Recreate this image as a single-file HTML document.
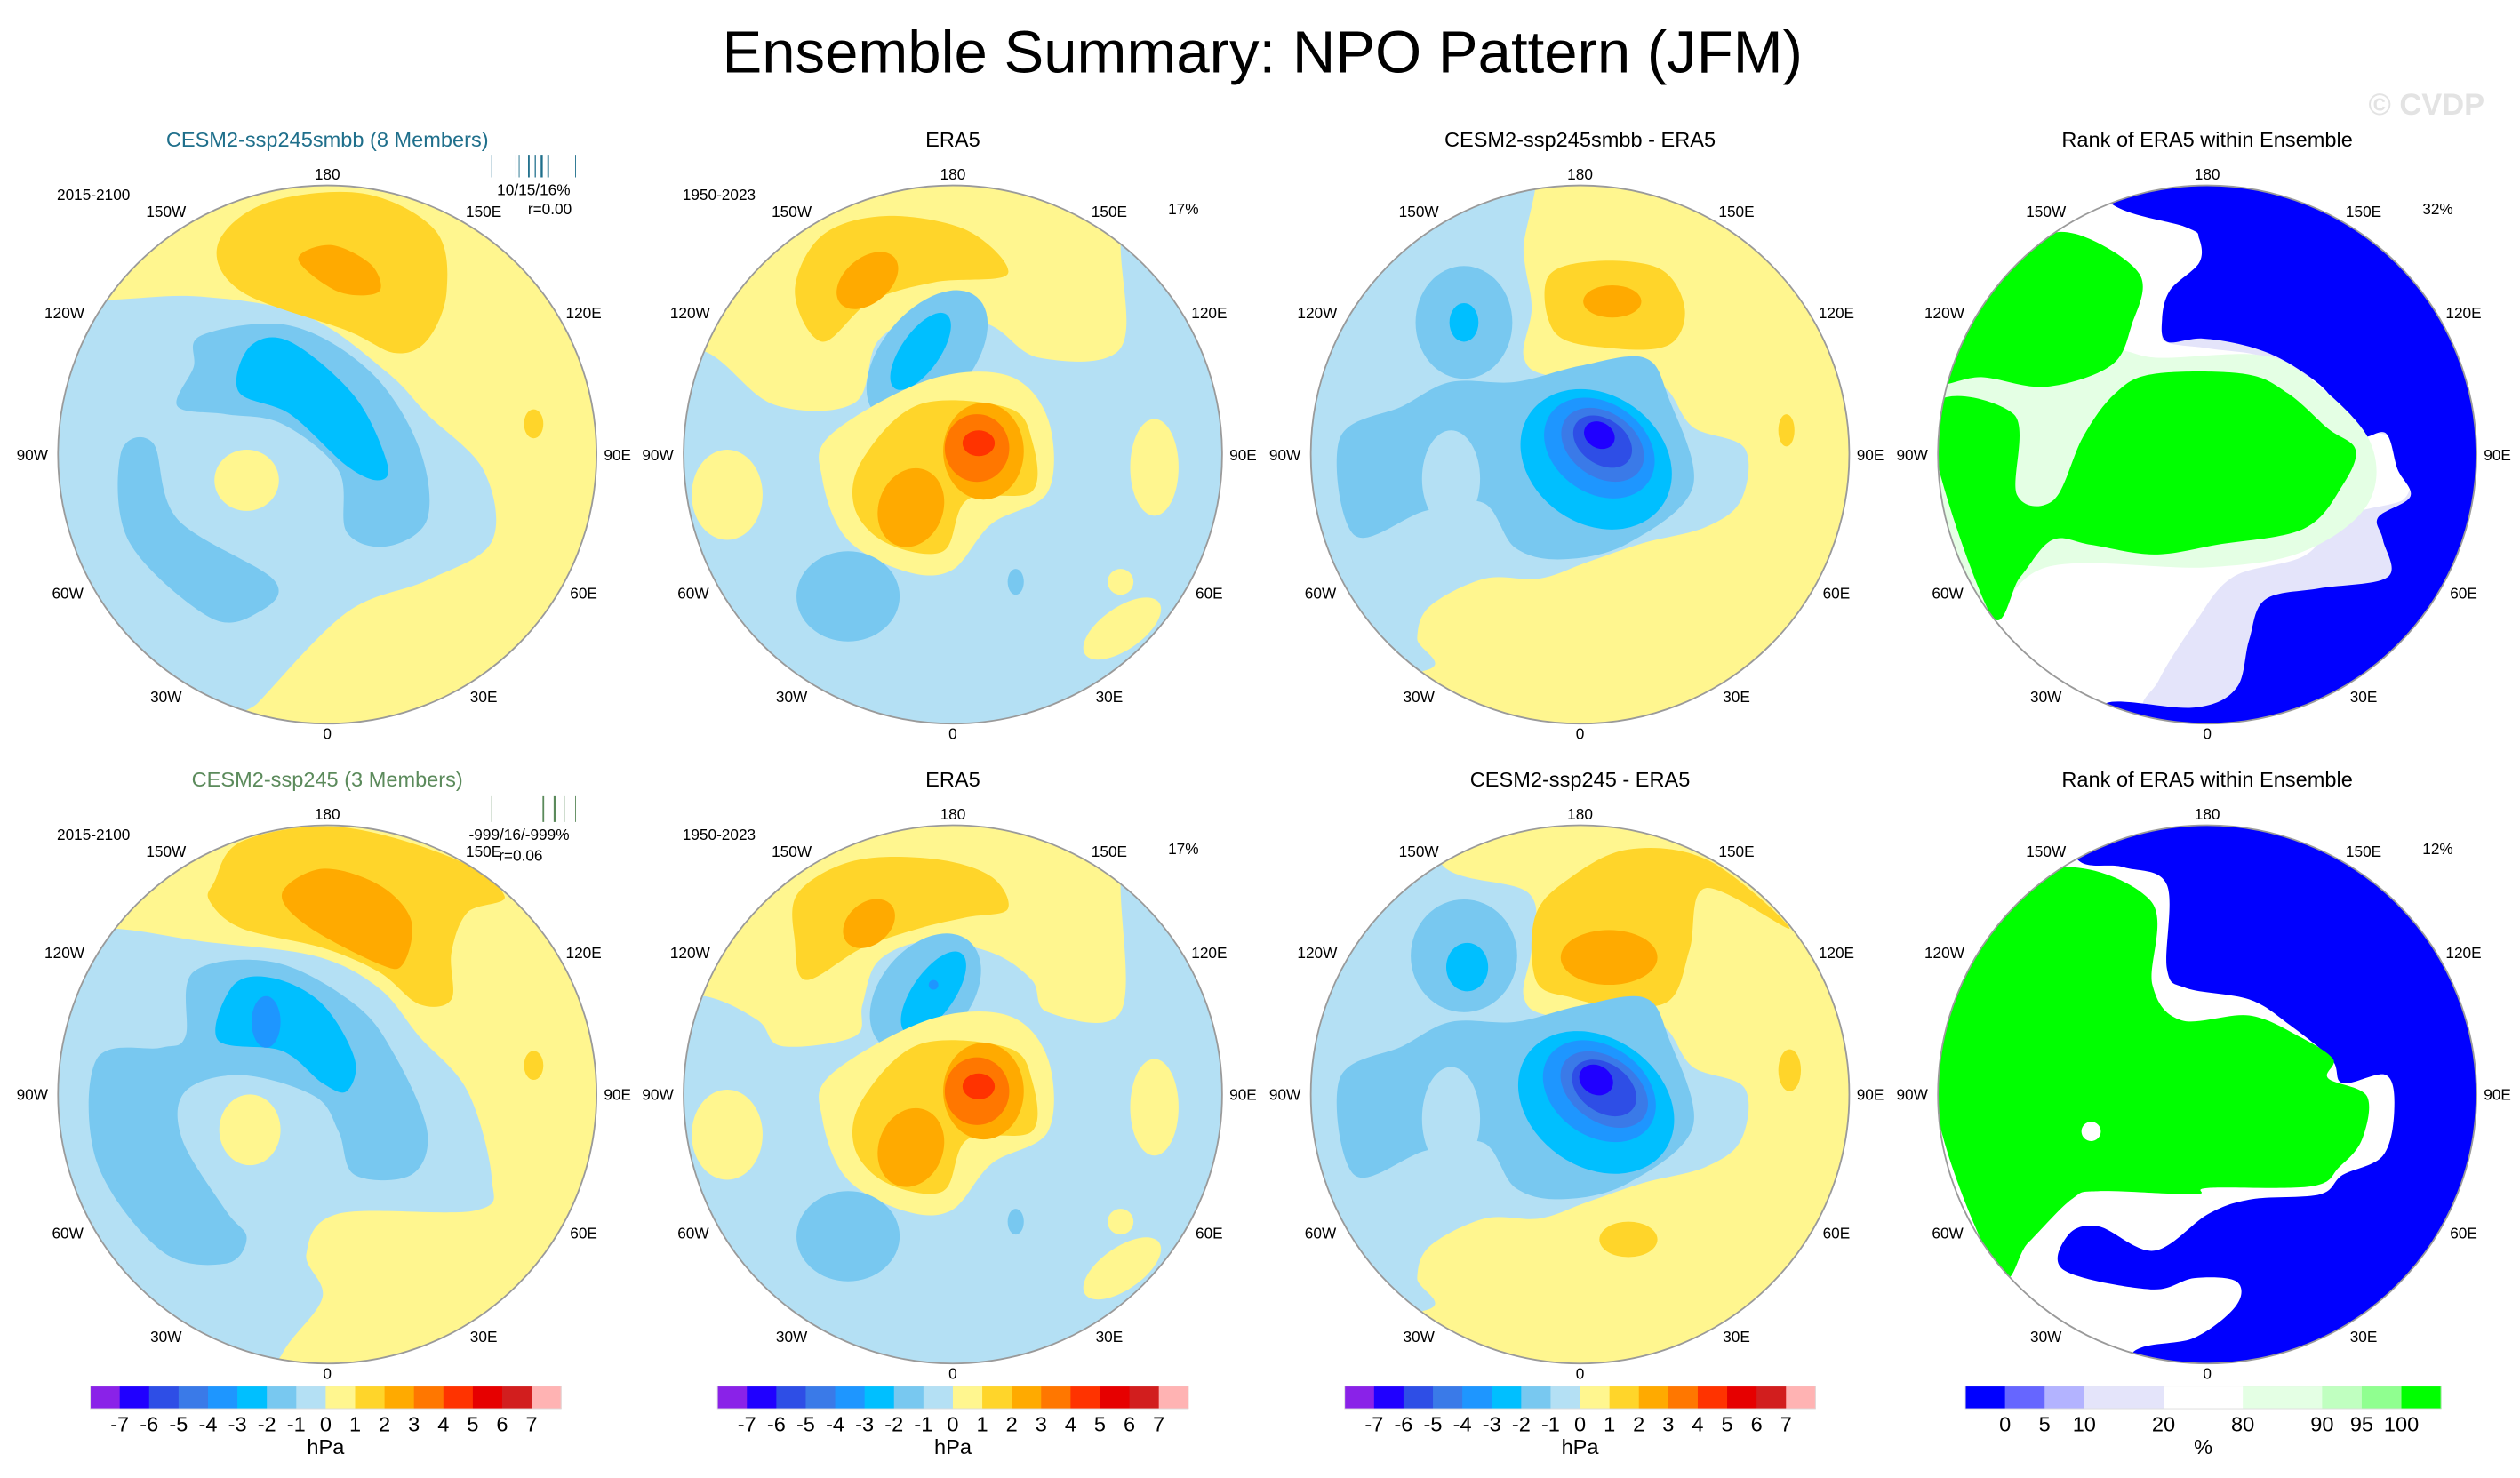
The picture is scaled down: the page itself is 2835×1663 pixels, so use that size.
<!DOCTYPE html>
<html><head><meta charset="utf-8">
<style>
html,body{margin:0;padding:0;background:#fff;}
svg{display:block;font-family:"Liberation Sans",Arial,sans-serif;}
</style></head>
<body>
<svg id="fig" xmlns="http://www.w3.org/2000/svg" width="2835" height="1663" viewBox="0 0 1563 917" preserveAspectRatio="none">
<rect x="0" y="0" width="1563" height="917" fill="#fff"/>
<text x="783" y="45" text-anchor="middle" font-size="37" fill="#000">Ensemble Summary: NPO Pattern (JFM)</text>
<text x="1505" y="71" text-anchor="middle" font-size="19" fill="#e3e3e3" font-weight="bold">© CVDP</text>
<g id="maps"></g>
</svg>
<script>
// ---- data ----
const hpaLevels = ["-7","-6","-5","-4","-3","-2","-1","0","1","2","3","4","5","6","7"];
const hpaColors = ["#8a22e8","#2000ff","#2e4ee6","#3a7ae8","#1e96ff","#00bfff","#78c8f0","#b4e0f4","#fff68f","#ffd52a","#ffaa00","#ff7700","#ff3300","#e60000","#d21e1e","#ffb3b3"];
const rankLevels = ["0","5","10","20","80","90","95","100"];
const rankColors = ["#0000ff","#6666ff","#b3b3ff","#e4e4fa","#ffffff","#e4ffe4","#c0ffc0","#90ff90","#00ff00"];
const rankBoxUnits = [1,1,1,2,2,2,1,1,1];
const lonLabels = ["180","150E","120E","90E","60E","30E","0","30W","60W","90W","120W","150W"];
const lonOffsets = [[0,-174],[97,-151],[159,-88],[180,0],[159,86],[97,150],[0,173],[-100,150],[-161,86],[-183,0],[-163,-88],[-100,-151]];

const map1Field = [
 ['p',8,[-138,-96,-78,-98,-13,-86,37,-51,62,-25,97,10,102,54,62,78,12,98,-43,154,-58,170,200,200,200,-200,-200,-200,-200,-96]],
 ['p',9,[-68,-130,-38,-156,22,-162,67,-139,74,-101,62,-71,42,-63,12,-77,-53,-101]],
 ['p',10,[-18,-121,2,-130,27,-118,32,-101,7,-101]],
 ['p',6,[-78,-74,-23,-80,27,-51,57,-4,62,40,37,57,12,48,7,10,-28,-19,-63,-25,-93,-30,-83,-54]],
 ['p',6,[-128,-1,-108,-7,-93,40,-33,78,-43,98,-73,101,-123,54]],
 ['p',5,[-55,-39,-48,-67,-23,-70,17,-36,37,5,32,16,12,7,-23,-25]],
 ['e',8,-50,16,20,19,0],
 ['e',9,128,-19,6,9,0]
];
const map2Field = [
 ['p',8,[-154,-64,-111,-31,-61,-32,-46,-71,-11,-89,24,-80,54,-60,104,-66,104,-131,104,-200,-200,-200,-200,-64]],
 ['p',9,[-98,-101,-81,-136,-41,-148,9,-139,34,-112,-11,-107,-51,-95,-81,-70]],
 ['e',10,-53,-108,22,14,-40],
 ['e',6,-16,-61,48,28,-50],
 ['e',5,-20,-64,28,12,-55],
 ['p',8,[-76,-12,-16,-46,34,-49,59,-22,59,23,24,43,-1,72,-31,72,-66,52,-81,15]],
 ['p',9,[-56,3,-21,-31,34,-29,49,-9,49,23,9,28,-6,60,-41,55,-61,33]],
 ['e',10,19,-2,25,30,0],
 ['e',10,-26,33,20,25,20],
 ['e',11,15,-4,20,21,0],
 ['e',12,16,-7,10,8,0],
 ['e',8,-140,25,22,28,0],
 ['e',8,125,8,15,30,0],
 ['e',8,105,108,28,13,-35],
 ['e',8,104,79,8,8,0],
 ['e',6,-65,88,32,28,0],
 ['e',6,39,79,5,8,0]
];
const map3Field = [
 ['p',7,[-40,-200,-35,-125,-30,-91,-35,-61,-20,-49,29,-46,53,-41,70,-17,102,-4,100,28,78,45,39,55,4,67,-25,77,-59,77,-93,94,-101,114,-96,134,-200,140,-200,-200]],
 ['p',9,[-20,-110,10,-120,50,-115,65,-90,55,-68,20,-66,-15,-75]],
 ['e',10,20,-95,18,10,0],
 ['e',6,-72,-82,30,35,0],
 ['p',6,[-149,-10,-110,-30,-80,-45,-40,-45,0,-55,40,-60,55,-35,70,20,30,55,-10,65,-40,58,-60,30,-96,35,-140,50]],
 ['e',7,-80,15,18,30,0],
 ['e',5,-72,-82,9,12,0],
 ['e',5,10,3,50,40,35],
 ['e',4,12,-4,37,28,35],
 ['e',3,14,-6,28,20,35],
 ['e',2,14,-8,20,14,35],
 ['e',1,12,-12,10,8,30],
 ['e',9,128,-15,5,10,0]
];
const map4Field = [
 ['p',3,[-75,-160,-13,-150,8,-130,-12,-95,-28,-72,0,-66,30,-62,56,-52,82,-34,90,-18,120,-10,140,0,200,-200,-75,-200]],
 ['p',3,[120,29,84,39,60,63,16,76,-8,105,-30,140,-35,160,40,175,140,100,130,20]],
 ['p',0,[-62,-158,-13,-141,-5,-134,-5,-119,-23,-102,-28,-84,-25,-70,-3,-72,26,-67,50,-57,75,-38,79,-20,96,-11,111,-13,118,9,126,26,106,39,109,53,112,76,70,83,36,90,26,115,18,145,-8,157,-62,154,-67,175,200,200,200,-200,-62,-200]],
 ['p',5,[-175,-50,-120,-60,-60,-65,-30,-60,30,-62,60,-50,100,-10,100,30,60,60,0,70,-100,70,-140,110,-175,100]],
 ['p',8,[-170,-45,-157,-84,-111,-129,-82,-137,-42,-112,-47,-80,-60,-55,-100,-42,-140,-48]],
 ['p',8,[-172,-25,-120,-25,-118,25,-95,28,-77,-11,-57,-38,-33,-50,23,-50,50,-38,75,-16,92,-3,84,19,60,46,6,56,-33,62,-72,56,-96,53,-116,76,-135,98]]
];
const map5Field = [
 ['p',8,[-133,-103,-78,-95,-8,-86,32,-66,57,-36,87,-2,102,52,92,72,7,74,-13,99,-3,126,-28,161,-40,200,200,200,200,-200,-200,-200,-200,-103]],
 ['p',9,[-70,-132,-53,-157,7,-166,77,-147,110,-123,87,-113,77,-88,77,-59,57,-56,32,-76,-3,-91,-53,-103,-73,-120]],
 ['p',10,[-28,-125,-3,-140,32,-130,52,-108,47,-81,32,-81,-13,-105]],
 ['p',6,[-83,-76,-33,-82,17,-56,42,-24,62,23,52,50,17,50,7,23,-8,1,-53,-12,-88,-2,-90,28,-63,72,-50,89,-63,105,-103,97,-143,42,-143,-22,-103,-29,-88,-36]],
 ['p',5,[-68,-34,-58,-68,-33,-72,-3,-56,17,-22,12,-2,-3,-7,-28,-27]],
 ['e',4,-38,-45,9,16,0],
 ['e',8,-48,22,19,22,0],
 ['e',9,128,-18,6,9,0]
];
const map6Field = [
 ['p',8,[-154,-61,-121,-46,-106,-30,-61,-36,-56,-56,-46,-83,-16,-95,24,-88,49,-71,59,-51,104,-51,104,-130,104,-200,-200,-200,-200,-61]],
 ['p',9,[-96,-125,-61,-145,-11,-146,24,-135,34,-115,9,-110,-21,-103,-56,-91,-91,-71,-98,-95]],
 ['e',10,-52,-106,18,13,-40],
 ['e',6,-17,-63,42,28,-50],
 ['e',5,-12,-63,30,13,-55],
 ['e',4,-12,-68,3,3,0],
 ['p',8,[-76,-12,-16,-46,34,-49,59,-22,59,23,24,43,-1,72,-31,72,-66,52,-81,15]],
 ['p',9,[-56,3,-21,-31,34,-29,49,-9,49,23,9,28,-6,60,-41,55,-61,33]],
 ['e',10,19,-2,25,30,0],
 ['e',10,-26,33,20,25,20],
 ['e',11,15,-2,20,21,0],
 ['e',12,16,-5,10,8,0],
 ['e',8,-140,25,22,28,0],
 ['e',8,125,8,15,30,0],
 ['e',8,105,108,28,13,-35],
 ['e',8,104,79,8,8,0],
 ['e',6,-65,88,32,28,0],
 ['e',6,39,79,5,8,0]
];
const map7Field = [
 ['p',7,[-86,-143,-32,-125,-30,-91,-35,-61,-20,-49,29,-46,53,-41,70,-17,102,-4,100,28,78,45,39,55,4,67,-25,77,-59,77,-93,94,-101,114,-96,134,-200,140,-200,-200,-86,-200]],
 ['p',9,[-27,-70,-28,-110,-8,-133,30,-152,80,-145,130,-103,78,-128,68,-90,55,-58,20,-55,-5,-60]],
 ['e',10,18,-85,30,17,0],
 ['e',6,-72,-86,33,35,0],
 ['p',6,[-149,-10,-110,-30,-80,-45,-40,-45,0,-55,40,-60,55,-35,70,20,30,55,-10,65,-40,58,-60,30,-96,35,-140,50]],
 ['e',7,-80,15,18,32,0],
 ['e',5,-70,-79,13,15,0],
 ['e',5,10,5,52,40,35],
 ['e',4,12,-2,38,28,35],
 ['e',3,15,-3,30,20,35],
 ['e',2,15,-4,22,15,35],
 ['e',1,10,-9,11,9,30],
 ['e',9,130,-15,7,13,0],
 ['e',9,30,90,18,11,0]
];
const map8Field = [
 ['p',0,[-82,-148,-52,-141,-25,-130,-25,-78,-13,-66,26,-59,50,-44,77,-22,84,-7,111,-12,116,10,109,38,84,50,70,62,28,65,1,74,-33,97,-67,82,-86,87,-89,109,-35,121,-8,114,18,116,18,131,-8,151,-47,161,-47,200,200,200,200,-200,-82,-200]],
 ['p',8,[-130,110,-169,3,-157,-91,-96,-140,-35,-120,-34,-68,-16,-46,26,-49,57,-36,78,-22,75,-10,99,1,96,28,82,45,65,57,1,58,-8,62,-67,60,-84,65,-111,92]],
 ['e',4,-72,23,6,6,0]
];

const panels = [
 {cx:203,cy:282,field:map1Field,pal:'hpa',base:7,title:"CESM2-ssp245smbb (8 Members)",tcol:"#1f6f8b",left:"2015-2100",name:'cesm2-smbb-npo-map'},
 {cx:591,cy:282,field:map2Field,pal:'hpa',base:7,title:"ERA5",tcol:"#000",left:"1950-2023",right:"17%",name:'era5-npo-map-top'},
 {cx:980,cy:282,field:map3Field,pal:'hpa',base:8,title:"CESM2-ssp245smbb - ERA5",tcol:"#000",name:'smbb-minus-era5-map'},
 {cx:1369,cy:282,field:map4Field,pal:'rank',base:4,title:"Rank of ERA5 within Ensemble",tcol:"#000",right:"32%",name:'rank-map-top'},
 {cx:203,cy:679,field:map5Field,pal:'hpa',base:7,title:"CESM2-ssp245 (3 Members)",tcol:"#5b8a5b",left:"2015-2100",name:'cesm2-ssp245-npo-map'},
 {cx:591,cy:679,field:map6Field,pal:'hpa',base:7,title:"ERA5",tcol:"#000",left:"1950-2023",right:"17%",name:'era5-npo-map-bottom'},
 {cx:980,cy:679,field:map7Field,pal:'hpa',base:8,title:"CESM2-ssp245 - ERA5",tcol:"#000",name:'ssp245-minus-era5-map'},
 {cx:1369,cy:679,field:map8Field,pal:'rank',base:4,title:"Rank of ERA5 within Ensemble",tcol:"#000",right:"12%",name:'rank-map-bottom'}
];

const NS="http://www.w3.org/2000/svg";
const R=167;
const root=document.getElementById('maps');
function mk(tag,attrs,parent){const e=document.createElementNS(NS,tag);for(const k in attrs)e.setAttribute(k,attrs[k]);(parent||root).appendChild(e);return e;}
function smooth(pts){
 const n=pts.length/2;const P=[];for(let i=0;i<n;i++)P.push([pts[2*i],pts[2*i+1]]);
 let d="M"+P[0][0]+","+P[0][1];
 for(let i=0;i<n;i++){const p0=P[(i-1+n)%n],p1=P[i],p2=P[(i+1)%n],p3=P[(i+2)%n];
  const c1=[p1[0]+(p2[0]-p0[0])/6,p1[1]+(p2[1]-p0[1])/6],c2=[p2[0]-(p3[0]-p1[0])/6,p2[1]-(p3[1]-p1[1])/6];
  d+=" C"+c1[0].toFixed(1)+","+c1[1].toFixed(1)+" "+c2[0].toFixed(1)+","+c2[1].toFixed(1)+" "+p2[0]+","+p2[1];}
 return d+"Z";}

const defs=mk('defs',{});
const cp=mk('clipPath',{id:'diskclip'},defs);
mk('circle',{cx:0,cy:0,r:R},cp);

panels.forEach((pn,i)=>{
 const pal=pn.pal==='hpa'?hpaColors:rankColors;
 const g=mk('g',{});
 
 
 const tg=mk('g',{transform:'translate('+pn.cx+','+pn.cy+')'},g);
 const fg=mk('g',{'clip-path':'url(#diskclip)'},tg);
 mk('rect',{x:-R-2,y:-R-2,width:2*R+4,height:2*R+4,fill:pal[pn.base]},fg);
 pn.field.forEach(s=>{
  let el;
  if(s[0]==='e') el=mk('ellipse',{cx:s[2],cy:s[3],rx:s[4],ry:s[5],transform:'rotate('+s[6]+' '+s[2]+' '+s[3]+')',fill:pal[s[1]]},fg);
  else el=mk('path',{d:smooth(s[2]),fill:pal[s[1]]},fg);
  
  
 });
 const ring=mk('circle',{cx:pn.cx,cy:pn.cy,r:R,fill:'none',stroke:'#9a9a9a','stroke-width':1},g);
 
 
 lonLabels.forEach((lb,k)=>{
  const t=mk('text',{x:pn.cx+lonOffsets[k][0],y:pn.cy+lonOffsets[k][1]+3.5,'text-anchor':'middle','font-size':9.5,fill:'#000'},g);
  t.textContent=lb;
  
  
 });
 const tt=mk('text',{x:pn.cx,y:pn.cy-191,'text-anchor':'middle','font-size':13,fill:pn.tcol},g);
 tt.textContent=pn.title;
 
 
 if(pn.left){const t=mk('text',{x:pn.cx-145,y:pn.cy-158,'text-anchor':'middle','font-size':9.5},g);t.textContent=pn.left;
  
  }
 if(pn.right){const t=mk('text',{x:pn.cx+143,y:pn.cy-149,'text-anchor':'middle','font-size':9.5},g);t.textContent=pn.right;
  
  }
});

function txt(x,y,s,nm){const t=mk('text',{x:x,y:y,'text-anchor':'middle','font-size':9.5});t.textContent=s;
 
 }
txt(331,121,"10/15/16%",'pct-variance-stats');
txt(341,133,"r=0.00",'pattern-correlation');
txt(322,521,"-999/16/-999%",'pct-variance-stats');
txt(323,534,"r=0.06",'pattern-correlation');
const tickMarks1=[[305,'#1f6f8b',0.5],[320,'#1f6f8b',0.5],[322,'#1f6f8b',0.5],[328,'#1f6f8b',1],[332,'#1f6f8b',0.7],[336,'#1f6f8b',1.3],[340,'#1f6f8b',1],[357,'#1f6f8b',0.5]];
const tickMarks2=[[305,'#5b8a5b',0.5],[337,'#5b8a5b',1],[344,'#5b8a5b',1.2],[350,'#5b8a5b',0.5],[357,'#5b8a5b',0.5]];
tickMarks1.forEach(m=>{const l=mk('line',{x1:m[0],x2:m[0],y1:96,y2:110,stroke:m[1],'stroke-width':m[2]});
 
 });
tickMarks2.forEach(m=>{const l=mk('line',{x1:m[0],x2:m[0],y1:494,y2:510,stroke:m[1],'stroke-width':m[2]});
 
 });

const barX=[56,445,834];
barX.forEach(x0=>{
 const g=mk('g',{});
 
 
 const w=292/hpaColors.length;
 hpaColors.forEach((c,k)=>{mk('rect',{x:x0+k*w,y:860,width:w+0.3,height:14,fill:c},g);});
 mk('rect',{x:x0,y:860,width:292,height:14,fill:'none',stroke:'#ddd','stroke-width':0.5},g);
 hpaLevels.forEach((lb,k)=>{const t=mk('text',{x:x0+(k+1)*w,y:888,'text-anchor':'middle','font-size':13},g);t.textContent=lb;
  
  });
 const u=mk('text',{x:x0+146,y:902,'text-anchor':'middle','font-size':13},g);u.textContent="hPa";
 
 
});
(function(){
 const x0=1219,W=295;const tot=rankBoxUnits.reduce((a,b)=>a+b,0);const uw=W/tot;
 const g=mk('g',{});
 
 
 let x=x0;const edges=[];
 rankColors.forEach((c,k)=>{const w=rankBoxUnits[k]*uw;mk('rect',{x:x,y:860,width:w+0.3,height:14,fill:c},g);x+=w;edges.push(x);});
 mk('rect',{x:x0,y:860,width:W,height:14,fill:'none',stroke:'#ddd','stroke-width':0.5},g);
 rankLevels.forEach((lb,k)=>{const t=mk('text',{x:edges[k],y:888,'text-anchor':'middle','font-size':13},g);t.textContent=lb;
  
  });
 const u=mk('text',{x:x0+W/2,y:902,'text-anchor':'middle','font-size':13},g);u.textContent="%";
 
 
})();
</script>
</body></html>
